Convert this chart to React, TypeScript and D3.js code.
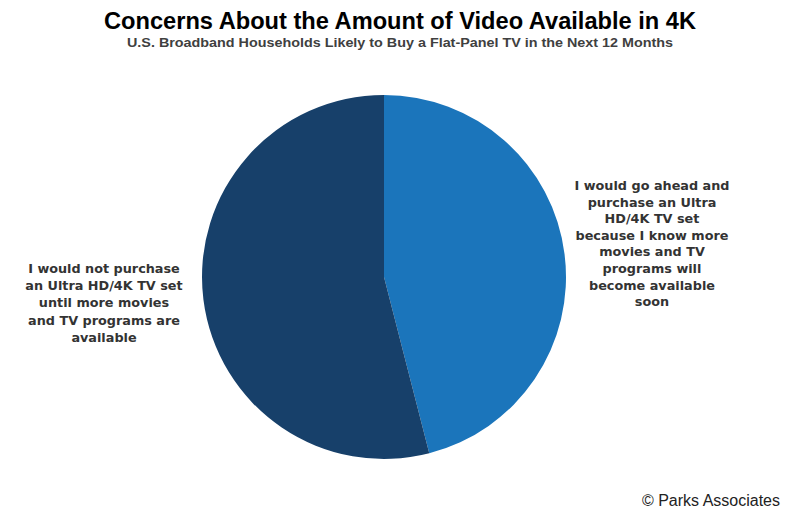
import { useEffect, useRef } from "react";
import * as d3 from "d3";

const categories = ["go ahead", "not purchase"];
const shares = [46, 54];
const labelLines = [
  ["I would go ahead and", "purchase an Ultra", "HD/4K TV set", "because I know more", "movies and TV", "programs will", "become available", "soon"],
  ["I would not purchase", "an Ultra HD/4K TV set", "until more movies", "and TV programs are", "available"],
];
const colors = ["#1b75bb", "#17406a"];

const App = () => {
  const svgRef = useRef<SVGSVGElement | null>(null);

  useEffect(() => {
    const width = 800;
    const height = 515;
    const svg = d3.select(svgRef.current).attr("width", width).attr("height", height);
    svg.selectAll("*").remove();

    svg.append("rect").attr("width", width).attr("height", height).attr("fill", "#ffffff");

    // titles
    svg.append("text")
      .attr("x", 400).attr("y", 29)
      .attr("text-anchor", "middle")
      .attr("font-family", "Liberation Sans, Arial, sans-serif")
      .attr("font-weight", "bold")
      .attr("font-size", "23px")
      .attr("fill", "#000")
      .attr("textLength", 592)
      .attr("lengthAdjust", "spacingAndGlyphs")
      .text("Concerns About the Amount of Video Available in 4K");

    svg.append("text")
      .attr("x", 400).attr("y", 47)
      .attr("text-anchor", "middle")
      .attr("font-family", "Liberation Sans, Arial, sans-serif")
      .attr("font-weight", "bold")
      .attr("font-size", "13px")
      .attr("fill", "#404040")
      .attr("textLength", 546)
      .attr("lengthAdjust", "spacingAndGlyphs")
      .text("U.S. Broadband Households Likely to Buy a Flat-Panel TV in the Next 12 Months");

    // pie
    const cx = 384, cy = 277, r = 182;
    const pie = d3.pie<number>().sort(null).value((d) => d);
    const arc = d3.arc<d3.PieArcDatum<number>>().innerRadius(0).outerRadius(r);
    const g = svg.append("g").attr("transform", `translate(${cx},${cy})`);
    g.selectAll("path")
      .data(pie(shares))
      .enter()
      .append("path")
      .attr("d", arc)
      .attr("fill", (_d, i) => colors[i])
      .attr("data-cat", (_d, i) => categories[i]);

    // labels
    const labelPos = [
      { x: 652, y: 190, lh: 16.6 },
      { x: 104, y: 273, lh: 17.2 },
    ];
    labelLines.forEach((lines, i) => {
      const t = svg.append("text")
        .attr("text-anchor", "middle")
        .attr("font-family", "DejaVu Sans, Verdana, sans-serif")
        .attr("font-weight", "bold")
        .attr("font-size", "12.8px")
        .attr("fill", "#333333");
      lines.forEach((line, j) => {
        t.append("tspan")
          .attr("x", labelPos[i].x)
          .attr("y", labelPos[i].y + j * labelPos[i].lh)
          .text(line);
      });
    });

    svg.append("text")
      .attr("x", 780).attr("y", 506)
      .attr("text-anchor", "end")
      .attr("font-family", "Liberation Sans, Arial, sans-serif")
      .attr("font-size", "16px")
      .attr("fill", "#222")
      .text("© Parks Associates");
  }, []);

  return (
    <div style={{ margin: -8 }}>
      <svg ref={svgRef} style={{ display: "block" }}></svg>
    </div>
  );
};

export default App;
